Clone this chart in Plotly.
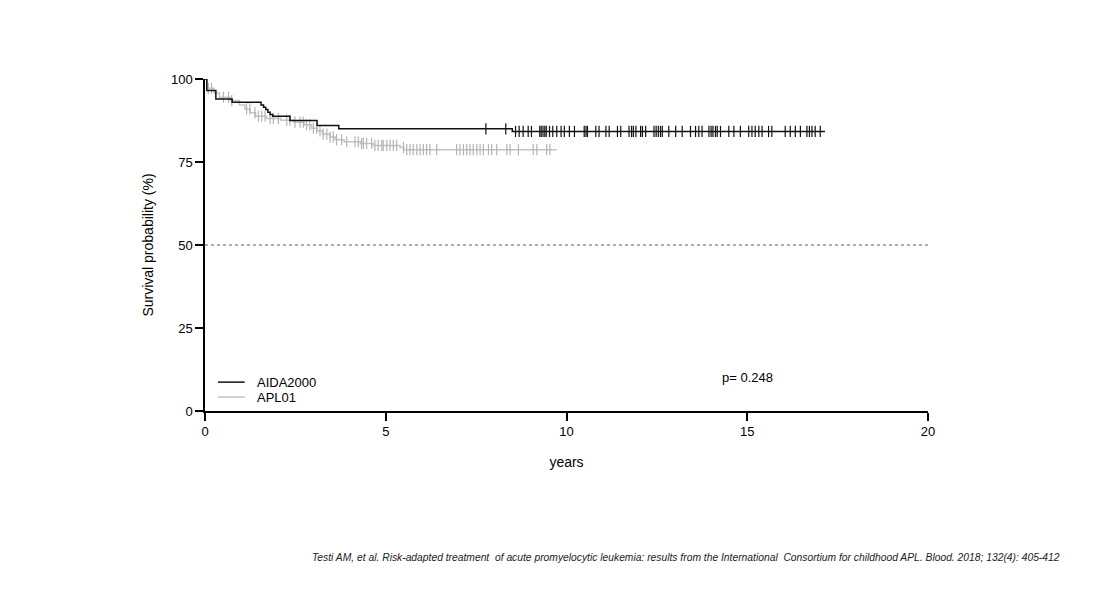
import numpy as np
import plotly.graph_objects as go

# Kaplan-Meier step points (years, survival %)
aida_times = [0, 0.05, 0.3, 0.75, 1.55, 1.62, 1.68, 1.74, 1.8, 1.87, 2.35, 3.1, 3.7, 8.5, 17.15]
aida_surv = [100, 96.5, 94.0, 93.0, 92.2, 91.5, 90.8, 90.0, 89.3, 88.8, 87.5, 86.0, 85.0, 84.2, 84.2]

apl_times = [0, 0.05, 0.25, 0.4, 0.7, 0.95, 1.1, 1.25, 1.4, 1.7, 2.1, 2.45, 2.75, 2.95,
             3.1, 3.25, 3.45, 3.6, 3.85, 4.3, 4.65, 5.4, 5.5, 9.73]
apl_surv = [100, 97.2, 95.8, 94.5, 93.5, 92.2, 91.0, 89.8, 88.8, 88.1, 87.6, 87.0, 86.2, 85.2,
            84.4, 83.4, 82.5, 81.7, 81.1, 80.6, 80.0, 79.4, 78.7, 78.7]

# censored observations (years)
aida_cens = [7.77, 8.32, 8.59, 8.69, 8.80, 8.94, 9.03, 9.26, 9.30, 9.35, 9.40, 9.44, 9.53,
             9.62, 9.73, 9.85, 9.94, 10.08, 10.22, 10.49, 10.54, 10.58, 10.81, 10.90, 11.09,
             11.18, 11.41, 11.50, 11.73, 11.80, 11.85, 11.92, 12.05, 12.10, 12.19, 12.42,
             12.48, 12.54, 12.60, 12.65, 12.83, 13.02, 13.20, 13.43, 13.57, 13.66, 13.75,
             13.94, 14.00, 14.05, 14.12, 14.17, 14.26, 14.49, 14.63, 14.81, 15.04, 15.13,
             15.22, 15.32, 15.41, 15.59, 15.68, 16.05, 16.19, 16.33, 16.47, 16.65, 16.72,
             16.79, 16.88, 17.02]
apl_cens = [0.09, 0.18, 0.51, 0.65, 0.74, 1.15, 1.24, 1.38, 1.48, 1.57, 1.66, 1.80, 1.89,
            2.03, 2.26, 2.35, 2.49, 2.63, 2.72, 2.81, 2.90, 3.00, 3.09, 3.18, 3.27, 3.37,
            3.46, 3.55, 3.64, 3.78, 3.92, 4.15, 4.24, 4.33, 4.38, 4.47, 4.61, 4.70, 4.79,
            4.89, 4.93, 5.03, 5.12, 5.21, 5.30, 5.49, 5.58, 5.67, 5.76, 5.86, 5.95, 6.04,
            6.13, 6.22, 6.41, 6.96, 7.05, 7.15, 7.24, 7.33, 7.42, 7.52, 7.61, 7.70, 7.84,
            7.93, 8.07, 8.35, 8.44, 8.67, 9.08, 9.18, 9.45, 9.54]

p_text = "p= 0.248"
citation = ("Testi AM, et al. Risk-adapted treatment  of acute promyelocytic leukemia: results "
            "from the International  Consortium for childhood APL. Blood. 2018; 132(4): 405-412")


def step_value(times, surv, t):
    idx = np.searchsorted(times, t, side="right") - 1
    return np.array(surv)[idx]


fig = go.Figure()

# reference line at 50%
fig.add_trace(go.Scatter(x=[0, 20], y=[50, 50], mode="lines",
                         line=dict(color="#333333", width=0.8, dash="3px,3px"),
                         showlegend=False, hoverinfo="skip"))

series = [
    ("AIDA2000", aida_times, aida_surv, aida_cens, "#111111", "#111111"),
    ("APL01", apl_times, apl_surv, apl_cens, "#c4c4c4", "#b4b4b4"),
]
for name, t, s, c, col, ccol in reversed(series):
    fig.add_trace(go.Scatter(x=t, y=s, mode="lines", name=name, line_shape="hv",
                             line=dict(color=col, width=1.5), showlegend=False))
    fig.add_trace(go.Scatter(x=c, y=step_value(t, s, c), mode="markers", showlegend=False,
                             marker=dict(symbol="line-ns", size=8,
                                         line=dict(color=ccol, width=1.2))))

# legend drawn by hand to match the tight spacing
for i, (name, t, s, c, col, ccol) in enumerate(series):
    ly = 0.087 - i * 0.045
    fig.add_shape(type="line", xref="paper", yref="paper", x0=0.018, x1=0.055,
                  y0=ly, y1=ly, line=dict(color=col, width=1.5))
    fig.add_annotation(x=0.069, y=ly, xref="paper", yref="paper", text=name,
                       xanchor="left", yanchor="middle", showarrow=False,
                       font=dict(size=13, color="black"))

fig.add_annotation(x=15, y=10, text=p_text, showarrow=False,
                   font=dict(size=13, color="black"))
fig.add_annotation(x=1, xref="paper", xanchor="right", xshift=134,
                   y=-0.465, yref="paper", text="<i>" + citation + "</i>",
                   showarrow=False, font=dict(size=10.3, color="#222222",
                                              family="Liberation Sans Narrow, Liberation Sans"))

fig.update_xaxes(range=[0, 20], tickvals=[0, 5, 10, 15, 20], ticks="outside", ticklen=8,
                 showline=True, linecolor="black", linewidth=1.5, tickcolor="black",
                 tickwidth=1.5, showgrid=False, zeroline=False,
                 title=dict(text="years", standoff=19), tickfont=dict(size=13))
fig.update_yaxes(range=[0, 100], tickvals=[0, 25, 50, 75, 100], ticks="outside", ticklen=8,
                 showline=True, linecolor="black", linewidth=1.5, tickcolor="black",
                 tickwidth=1.5, showgrid=False, zeroline=False,
                 title=dict(text="Survival probability (%)", standoff=14),
                 tickfont=dict(size=13))

fig.update_layout(
    width=1115, height=591,
    margin=dict(l=197, r=195, t=71, b=188),
    plot_bgcolor="white", paper_bgcolor="white",
    font=dict(family="Liberation Sans, Arial, sans-serif", size=12, color="black"),
    showlegend=False,
)

fig.write_html("out.html")
